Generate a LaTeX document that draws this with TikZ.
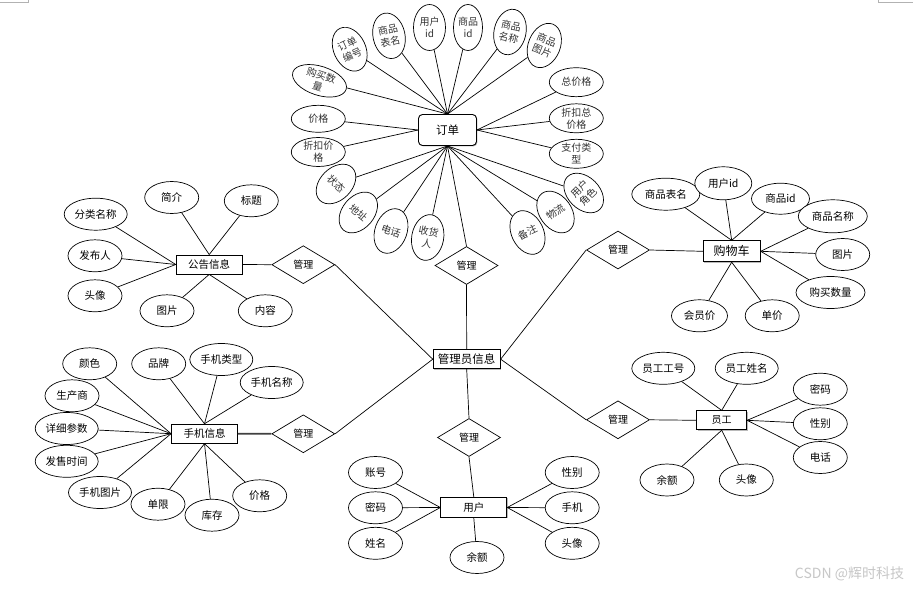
\documentclass[tikz,border=0pt]{standalone}
\usepackage{fontspec}
\newfontfamily\cjk{Noto Sans CJK SC}
\usetikzlibrary{shapes.geometric,shadows}
\begin{document}
\begin{tikzpicture}[x=1pt,y=-1pt,
  ent/.style={draw, rectangle, line width=0.9pt, inner sep=0pt, fill=white,
    minimum width=66pt, minimum height=19pt,
    font=\cjk\fontsize{10.5}{12}\selectfont,
    drop shadow={shadow xshift=0.9pt,shadow yshift=-0.9pt,fill=black!45,opacity=0.6}},
  rel/.style={draw, diamond, inner sep=0pt, minimum width=63pt, minimum height=38pt,
    fill=white, font=\cjk\fontsize{10}{12}\selectfont, line width=0.7pt},
  att/.style={draw, ellipse, inner sep=0pt, minimum width=54pt, minimum height=32pt,
    fill=white, font=\cjk\fontsize{10.5}{12}\selectfont, line width=0.7pt},
  ov/.style={draw, ellipse, inner sep=-2pt, minimum width=32pt, minimum height=46pt,
    align=center, fill=white, text=black!80, font=\cjk\fontsize{10}{12}\selectfont, line width=0.7pt},
  oh/.style={draw, ellipse, inner sep=-2pt, minimum width=54pt, minimum height=29pt,
    align=center, fill=white, text=black!80, font=\cjk\fontsize{10}{12}\selectfont, line width=0.7pt},
  ln/.style={line width=0.7pt},
  cropmark/.style={line width=0.6pt, black!30}]
\useasboundingbox (0,0) rectangle (922,591);
\fill[white] (0,0) rectangle (922,591);
% corner marks
\coordinate (m1) at (0,2); \coordinate (m2) at (28,2); \coordinate (m3) at (28,0);
\draw[cropmark] (m1) -- (m2) -- (m3);
\coordinate (m4) at (878,0); \coordinate (m5) at (878,2); \coordinate (m6) at (913,2);
\draw[cropmark] (m4) -- (m5) -- (m6);

% ===== central =====
\node[ent, minimum width=67pt, font=\cjk\fontsize{11.5}{13}\selectfont] (admin) at (466.7,359.2) {管理员信息};

% ===== order =====
\node[ent, rounded corners=4pt, minimum width=58pt, minimum height=31pt, font=\cjk\fontsize{11.5}{13}\selectfont] (order) at (447.5,130) {订单};
\node[ov, rotate=25]  (o1)  at (349.7,49.2) {订单\\编号};
\node[ov, rotate=12]  (o2)  at (389,35.8)   {商品\\表名};
\node[ov]             (o3)  at (429.5,27.5) {用户\\id};
\node[ov, minimum width=29pt] (o4) at (468,27.5) {商品\\id};
\node[ov, rotate=-12] (o5)  at (510,32)     {商品\\名称};
\node[ov, rotate=-22] (o6)  at (544.3,45.5) {商品\\图片};
\node[oh]             (o7)  at (576.3,82.2) {总价格};
\node[oh]             (o8)  at (576.3,118.3){折扣总\\价格};
\node[oh]             (o9)  at (576.3,153.8){支付类\\型};
\node[ov, rotate=45]  (o10) at (583.7,193)  {用户\\角色};
\node[ov, rotate=36]  (o11) at (555.5,212)  {物流};
\node[ov, rotate=26]  (o12) at (527.5,232.5){备注};
\node[ov, rotate=-10] (o13) at (427.7,237.5){收货\\人};
\node[ov, rotate=-20] (o14) at (391,231)    {电话};
\node[ov, rotate=-40] (o15) at (358.3,212.5){地址};
\node[ov, rotate=-45] (o16) at (336,184)    {状态};
\node[oh]             (o17) at (318.3,152)  {折扣价\\格};
\node[oh, minimum height=27pt] (o18) at (318.3,118.8) {价格};
\node[oh, minimum width=56pt, rotate=-18] (o19) at (319.5,80.8) {购买数\\量};
\foreach \a in {o1,o2,o3,o4,o5,o6,o19} \draw[ln] (\a) -- (order.north);
\foreach \a in {o7,o8,o9} \draw[ln] (\a) -- (order.east);
\foreach \a in {o17,o18} \draw[ln] (\a) -- (order.west);
\foreach \a in {o10,o11,o12,o13,o14,o15,o16} \draw[ln] (\a) -- (order.south);
\node[rel] (dT) at (466.5,265.5) {管理};
\draw[ln] (order.south) -- (dT.north);
\draw[ln] (dT.south) -- (admin.north);

% ===== notice =====
\node[ent] (gg) at (209.2,264.5) {公告信息};
\node[rel] (dL1) at (303.3,264.7) {管理};
\node[att, minimum width=63pt] (g1) at (95.7,214.2) {分类名称};
\node[att] (g2) at (171.7,197.5) {简介};
\node[att] (g3) at (251.3,200.8) {标题};
\node[att] (g4) at (95,255.8) {发布人};
\node[att] (g5) at (95,295.8) {头像};
\node[att] (g6) at (167,310.8) {图片};
\node[att] (g7) at (265.3,310.8) {内容};
\foreach \a in {g1,g4,g5} \draw[ln] (\a) -- (gg.west);
\foreach \a in {g2,g3} \draw[ln] (\a) -- (gg.north);
\foreach \a in {g6,g7} \draw[ln] (\a) -- (gg.south);
\draw[ln] (gg.east) -- (dL1.west);
\draw[ln] (dL1.east) -- (admin.west);

% ===== phone =====
\node[ent] (sj) at (204.5,433.7) {手机信息};
\node[rel] (dL2) at (303.3,433.8) {管理};
\node[att] (s1) at (89.7,363.8) {颜色};
\node[att] (s2) at (158.7,363.8) {品牌};
\node[att, minimum width=63pt] (s3) at (221.3,359.5) {手机类型};
\node[att, minimum width=63pt] (s4) at (271.7,382.5) {手机名称};
\node[att] (s5) at (72,395.8) {生产商};
\node[att, minimum width=63pt] (s6) at (66.7,428.5) {详细参数};
\node[att, minimum width=63pt] (s7) at (66.7,461.3) {发售时间};
\node[att, minimum width=63pt] (s8) at (100,492.5) {手机图片};
\node[att] (s9) at (158,504.2) {单限};
\node[att] (s10) at (212,515.2) {库存};
\node[att] (s11) at (259.7,495.8) {价格};
\foreach \a in {s1,s5,s6,s7,s8} \draw[ln] (\a) -- (sj.west);
\foreach \a in {s2,s3,s4} \draw[ln] (\a) -- (sj.north);
\foreach \a in {s9,s10,s11} \draw[ln] (\a) -- (sj.south);
\draw[line width=1.6pt, black!75] (sj.east) -- (dL2.west);
\draw[ln] (dL2.east) -- (admin.west);

% ===== cart =====
\node[ent, minimum width=57pt, minimum height=21pt, font=\cjk\fontsize{12}{13}\selectfont] (gw) at (731.7,251.3) {购物车};
\node[rel] (dR1) at (618,250) {管理};
\begin{scope}[every node/.append style={font=\cjk\fontsize{11}{12}\selectfont}]
\node[att, minimum width=68pt] (c1) at (665.8,194.2) {商品表名};
\node[att, minimum width=57pt, minimum height=33pt] (c2) at (723.3,183.3) {用户id};
\node[att, minimum width=58pt, minimum height=31pt] (c3) at (780.5,198.7) {商品id};
\node[att, minimum width=69pt, minimum height=33pt] (c4) at (832.8,216.3) {商品名称};
\node[att] (c5) at (842.7,254.5) {图片};
\node[att, minimum width=69pt] (c6) at (830.5,292.5) {购买数量};
\node[att, minimum width=56pt] (c7) at (699.5,315.8) {会员价};
\node[att] (c8) at (772.2,315.8) {单价};
\end{scope}
\foreach \a in {c1,c2,c3} \draw[ln] (\a) -- (gw.north);
\foreach \a in {c4,c5,c6} \draw[ln] (\a) -- (gw.east);
\foreach \a in {c7,c8} \draw[ln] (\a) -- (gw.south);
\draw[ln] (dR1.east) -- (gw.west);
\draw[ln] (admin.east) -- (dR1.west);

% ===== staff =====
\node[ent, minimum width=50pt, font=\cjk\fontsize{10}{12}\selectfont] (yg) at (721.7,420.3) {员工};
\node[rel] (dR2) at (618,419.8) {管理};
\node[att, minimum width=63pt] (y1) at (663.3,368.3) {员工工号};
\node[att, minimum width=63pt] (y2) at (746.7,368.3) {员工姓名};
\node[att] (y3) at (820.3,389.2) {密码};
\node[att] (y4) at (820.3,423.8) {性别};
\node[att] (y5) at (820.3,457.5) {电话};
\node[att] (y6) at (667,480) {余额};
\node[att] (y7) at (746.3,480) {头像};
\foreach \a in {y1,y2} \draw[ln] (\a) -- (yg.north);
\foreach \a in {y3,y4,y5} \draw[ln] (\a) -- (yg.east);
\foreach \a in {y6,y7} \draw[ln] (\a) -- (yg.south);
\draw[ln] (dR2.east) -- (yg.west);
\draw[ln] (admin.east) -- (dR2.west);

% ===== user =====
\node[ent, minimum height=20pt] (yh) at (473.8,507.5) {用户};
\node[rel] (dB) at (469,437.5) {管理};
\node[att] (u1) at (375.5,472.5) {账号};
\node[att] (u2) at (375.5,507.8) {密码};
\node[att] (u3) at (375.5,543.3) {姓名};
\node[att] (u4) at (572.2,472.5) {性别};
\node[att] (u5) at (572.2,507.8) {手机};
\node[att] (u6) at (572.2,543.3) {头像};
\node[att] (u7) at (477,557.5) {余额};
\foreach \a in {u1,u2,u3} \draw[ln] (\a) -- (yh.west);
\foreach \a in {u4,u5,u6} \draw[ln] (\a) -- (yh.east);
\draw[ln] (u7) -- (yh.south);
\draw[ln] (admin.south) -- (dB.north);
\draw[ln] (dB.south) -- (yh.north);

% watermark
\node[font=\cjk\fontsize{14}{15}\selectfont, text=black!22, inner sep=0pt] (wm) at (849.5,574) {CSDN @辉时科技};
\end{tikzpicture}
\end{document}
